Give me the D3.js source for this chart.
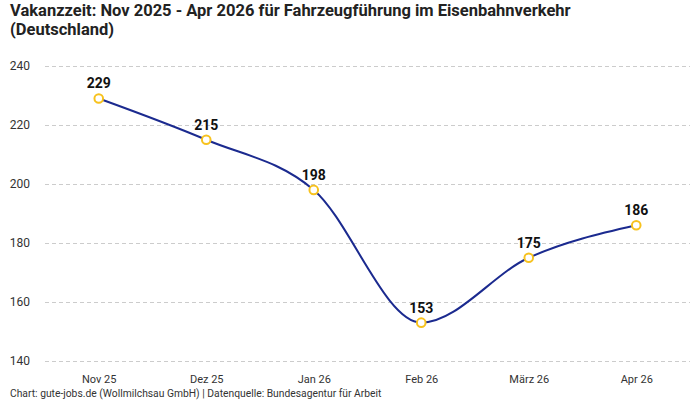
<!DOCTYPE html>
<html>
<head>
<meta charset="utf-8">
<script src="https://cdn.jsdelivr.net/npm/d3@7"></script>
<style>
  body { margin: 0; background: #fff; }
  svg { font-family: Roboto, "Noto Sans", sans-serif; }
</style>
</head>
<body>
<svg id="chart"></svg>
<script>
var width = 700
var height = 400

var months = ["Nov 25", "Dez 25", "Jan 26", "Feb 26", "März 26", "Apr 26"]
var vakanzzeit = [229, 215, 198, 153, 175, 186]
var yTicks = [140, 160, 180, 200, 220, 240]

var titleLines = ["Vakanzzeit: Nov 2025 - Apr 2026 für Fahrzeugführung im Eisenbahnverkehr", "(Deutschland)"]
var footer = "Chart: gute-jobs.de (Wollmilchsau GmbH) | Datenquelle: Bundesagentur für Arbeit"

// note: "top" is reserved on window, so use other names
var plotLeft = 45, plotRight = 690, plotTop = 66, plotBottom = 361

var x = d3.scalePoint().domain(months).range([plotLeft, plotRight]).padding(0.5)
var y = d3.scaleLinear().domain([140, 240]).range([plotBottom, plotTop])

var svg = d3.select("#chart").attr("width", width).attr("height", height)

// title
svg.selectAll("text.title")
  .data(titleLines)
  .enter()
  .append("text")
    .attr("class", "title")
    .attr("x", 10)
    .attr("y", (d, i) => 16 + i * 19)
    .attr("font-size", 16.5)
    .attr("font-weight", "bold")
    .attr("fill", "#222")
    .text(d => d)

// grid + y labels
var yAxis = d3.axisLeft(y).tickValues(yTicks).tickSize(-(plotRight - plotLeft)).tickPadding(15)
var gy = svg.append("g").attr("transform", "translate(" + plotLeft + ",0)").call(yAxis)
gy.select(".domain").remove()
gy.selectAll(".tick line").attr("stroke", "#ccc").attr("stroke-dasharray", "4,3")
gy.selectAll(".tick text").attr("font-size", 12).attr("fill", "#333").attr("font-family", "Roboto, sans-serif")

// x labels
var xAxis = d3.axisBottom(x).tickSize(0).tickPadding(14)
var gx = svg.append("g").attr("transform", "translate(0," + plotBottom + ")").call(xAxis)
gx.select(".domain").remove()
gx.selectAll(".tick text").attr("font-size", 11).attr("fill", "#333").attr("font-family", "Roboto, sans-serif")

var data = months.map((m, i) => ({ m: m, v: vakanzzeit[i] }))

var line = d3.line()
  .x(d => x(d.m))
  .y(d => y(d.v))
  .curve(d3.curveMonotoneX)

svg.append("path")
  .datum(data)
  .attr("d", line)
  .attr("fill", "none")
  .attr("stroke", "#1b2a8f")
  .attr("stroke-width", 2)

svg.selectAll("circle")
  .data(data)
  .enter()
  .append("circle")
    .attr("cx", d => x(d.m))
    .attr("cy", d => y(d.v))
    .attr("r", 4.3)
    .attr("fill", "#fff")
    .attr("stroke", "#f7c21e")
    .attr("stroke-width", 2)

svg.selectAll("text.val")
  .data(data)
  .enter()
  .append("text")
    .attr("class", "val")
    .attr("x", d => x(d.m))
    .attr("y", d => y(d.v) - 10)
    .attr("text-anchor", "middle")
    .attr("font-size", 14)
    .attr("font-weight", "bold")
    .attr("fill", "#111")
    .text(d => d.v)

svg.append("text")
  .attr("x", 10)
  .attr("y", 397)
  .attr("font-size", 10.3)
  .attr("fill", "#333")
  .text(footer)
</script>
</body>
</html>
